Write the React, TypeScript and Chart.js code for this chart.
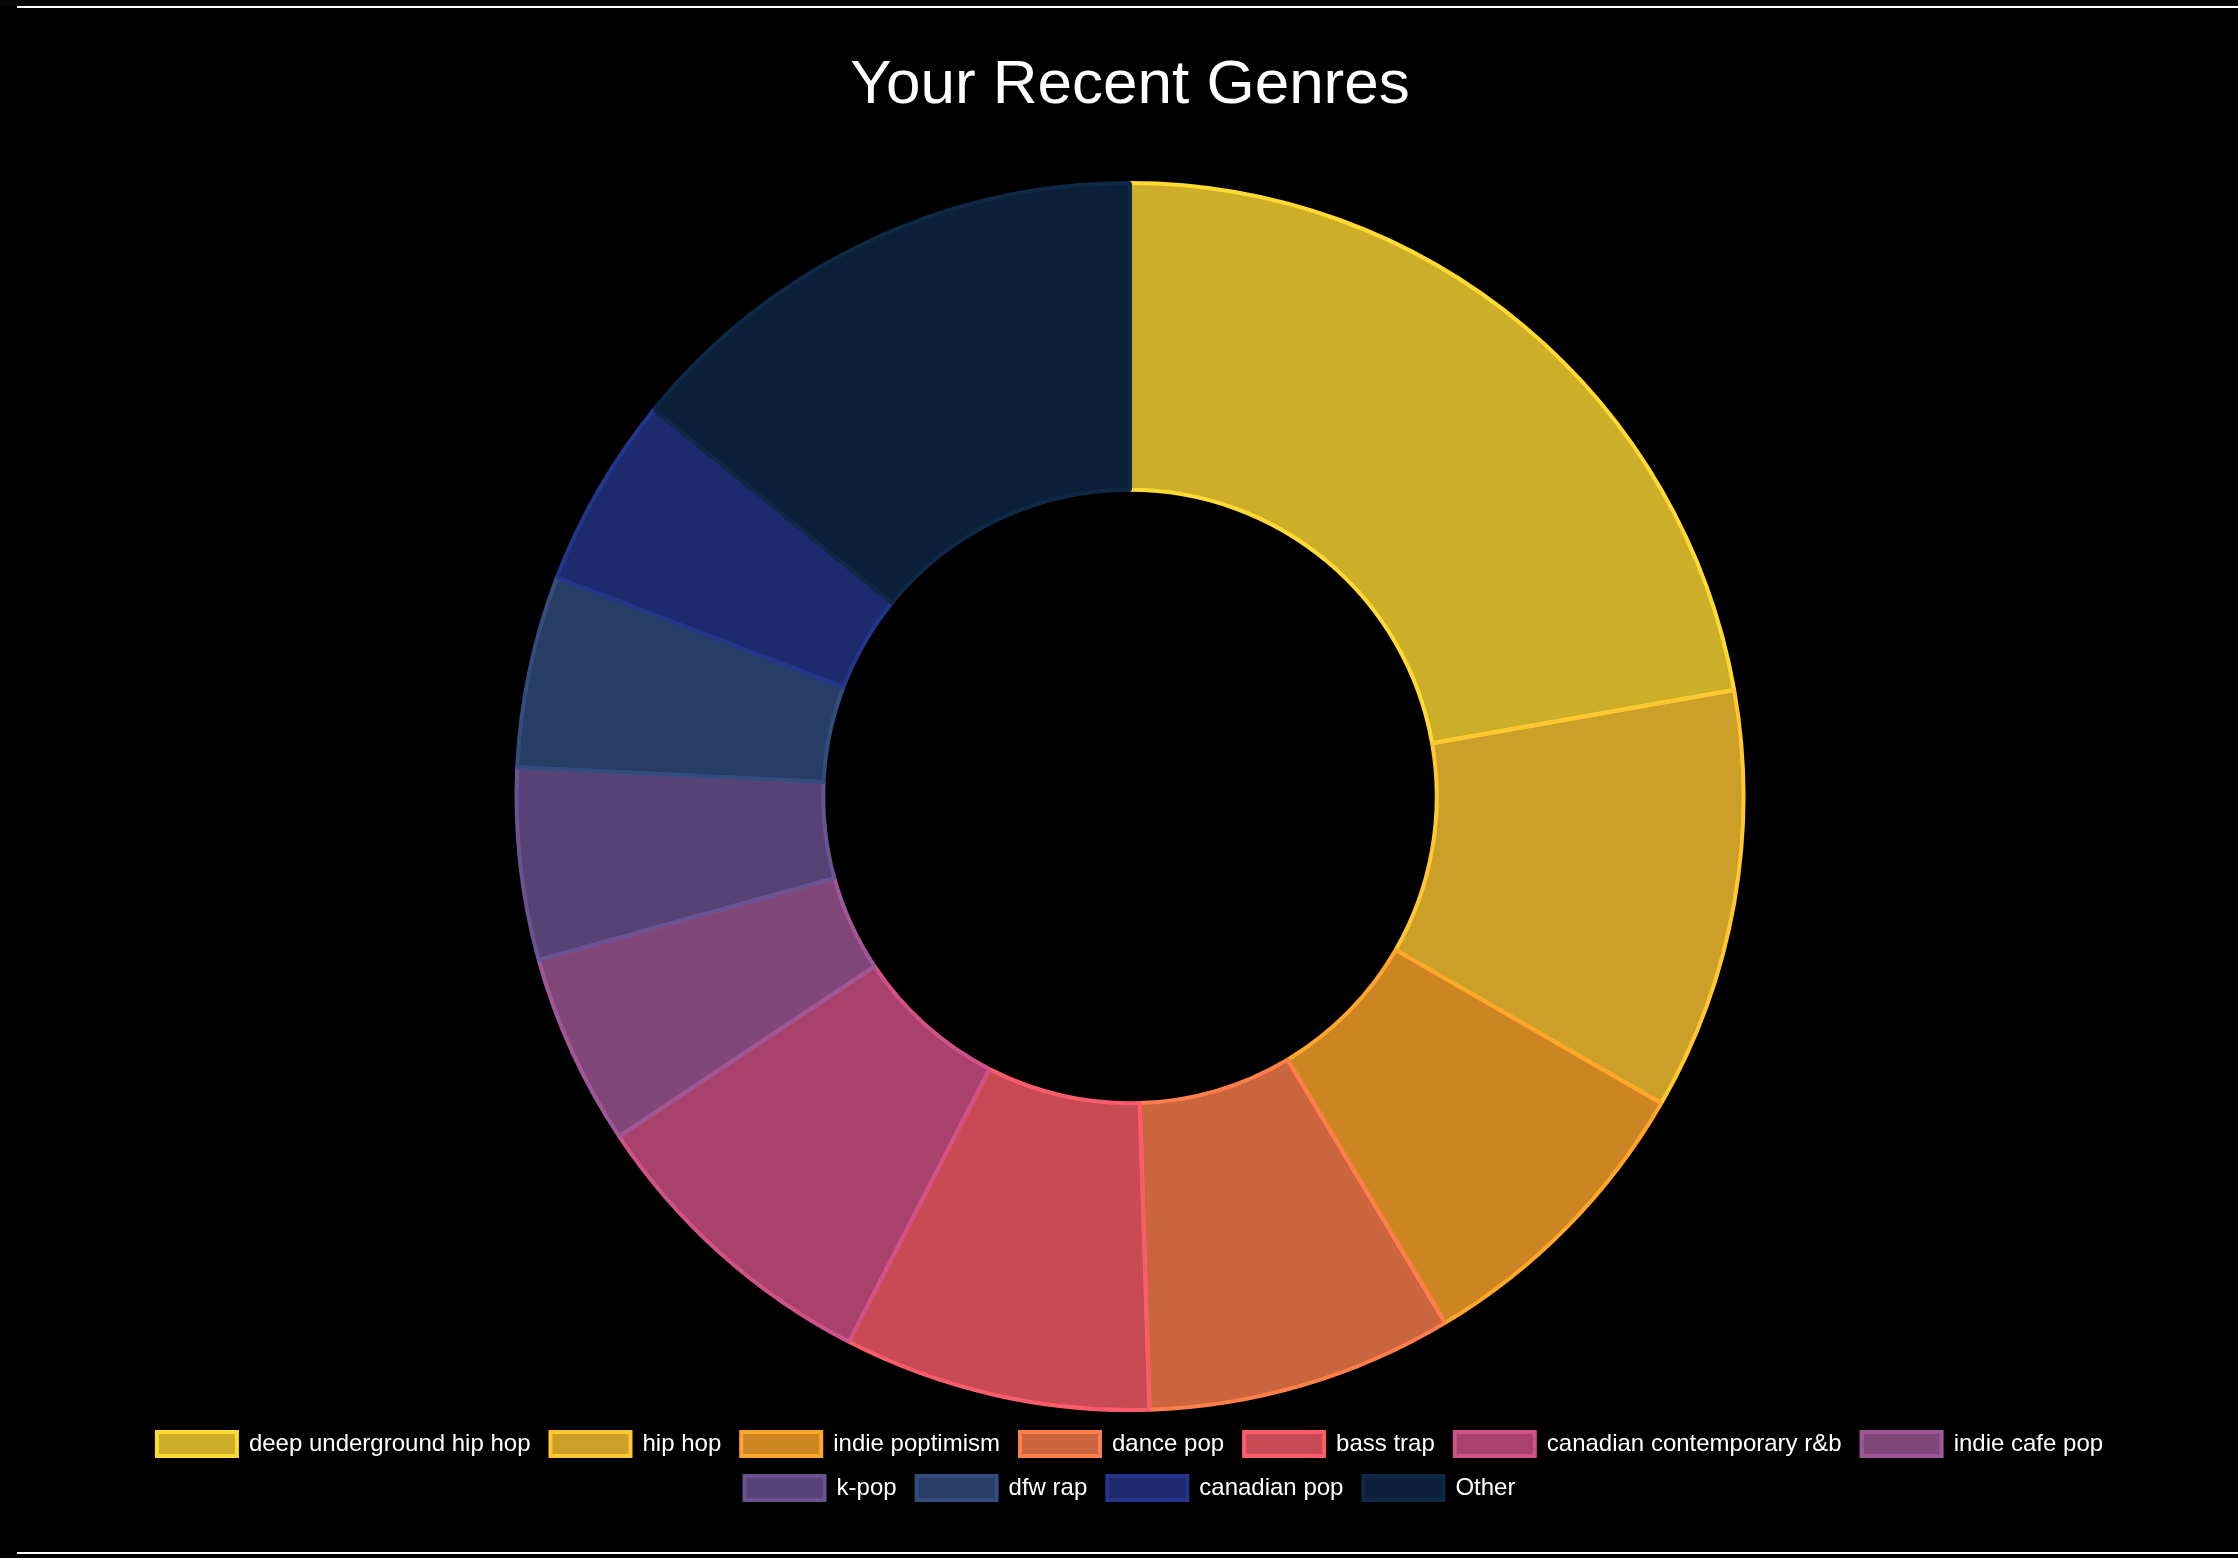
import React, { useEffect, useRef } from "react";
import { Chart, registerables } from "chart.js";

Chart.register(...registerables);

const genres = [
  "deep underground hip hop",
  "hip hop",
  "indie poptimism",
  "dance pop",
  "bass trap",
  "canadian contemporary r&b",
  "indie cafe pop",
  "k-pop",
  "dfw rap",
  "canadian pop",
  "Other",
];

const counts = [22, 11, 8, 8, 8, 8, 5, 5, 5, 5, 14];

const borderColors = [
  "rgb(255, 218, 51)",
  "rgb(255, 200, 50)",
  "rgb(255, 166, 43)",
  "rgb(254, 126, 76)",
  "rgb(250, 92, 106)",
  "rgb(210, 82, 136)",
  "rgb(160, 87, 150)",
  "rgb(107, 82, 146)",
  "rgb(50, 76, 126)",
  "rgb(36, 53, 138)",
  "rgb(14, 40, 70)",
];

const fillColors = borderColors.map((c) => c.replace("rgb(", "rgba(").replace(")", ", 0.8)"));

const FONT = "Helvetica, Arial, 'Liberation Sans', sans-serif";

export default function App() {
  const ref = useRef<HTMLCanvasElement | null>(null);

  useEffect(() => {
    document.body.style.margin = "0";
    document.body.style.background = "#000";
    document.body.style.overflow = "hidden";
    const canvas = ref.current;
    if (!canvas) return;
    const chart = new Chart(canvas, {
      type: "doughnut",
      data: {
        labels: genres,
        datasets: [
          {
            data: counts,
            backgroundColor: fillColors,
            borderColor: borderColors,
            borderWidth: 4,
          },
        ],
      },
      options: {
        animation: false,
        responsive: false,
        devicePixelRatio: 1,
        cutout: "50%",
        layout: { padding: { top: 0, bottom: 21, left: 60, right: 60 } },
        plugins: {
          title: {
            display: true,
            text: "Your Recent Genres",
            color: "#ffffff",
            font: { family: FONT, size: 62, weight: "normal" },
            padding: { top: 39, bottom: 57.6 },
          },
          legend: {
            position: "bottom",
            labels: {
              color: "#ffffff",
              font: { family: FONT, size: 24 },
              boxWidth: 80,
              boxHeight: 24,
              padding: 20,
            },
          },
          tooltip: { enabled: false },
        },
      },
    });
    return () => chart.destroy();
  }, []);

  return (
    <div style={{ position: "relative", width: 2238, height: 1558, background: "#000", overflow: "hidden" }}>
      <div style={{ position: "absolute", left: 0, top: 0, width: 2238, height: 6, background: "#070707" }} />
      <div style={{ position: "absolute", left: 17, top: 6, width: 2221, height: 2, background: "#ffffff" }} />
      <canvas
        ref={ref}
        width={2226}
        height={1521}
        style={{ position: "absolute", left: 17, top: 10, width: 2226, height: 1521 }}
      />
      <div style={{ position: "absolute", left: 17, top: 1552, width: 2221, height: 2, background: "#ffffff" }} />
    </div>
  );
}
